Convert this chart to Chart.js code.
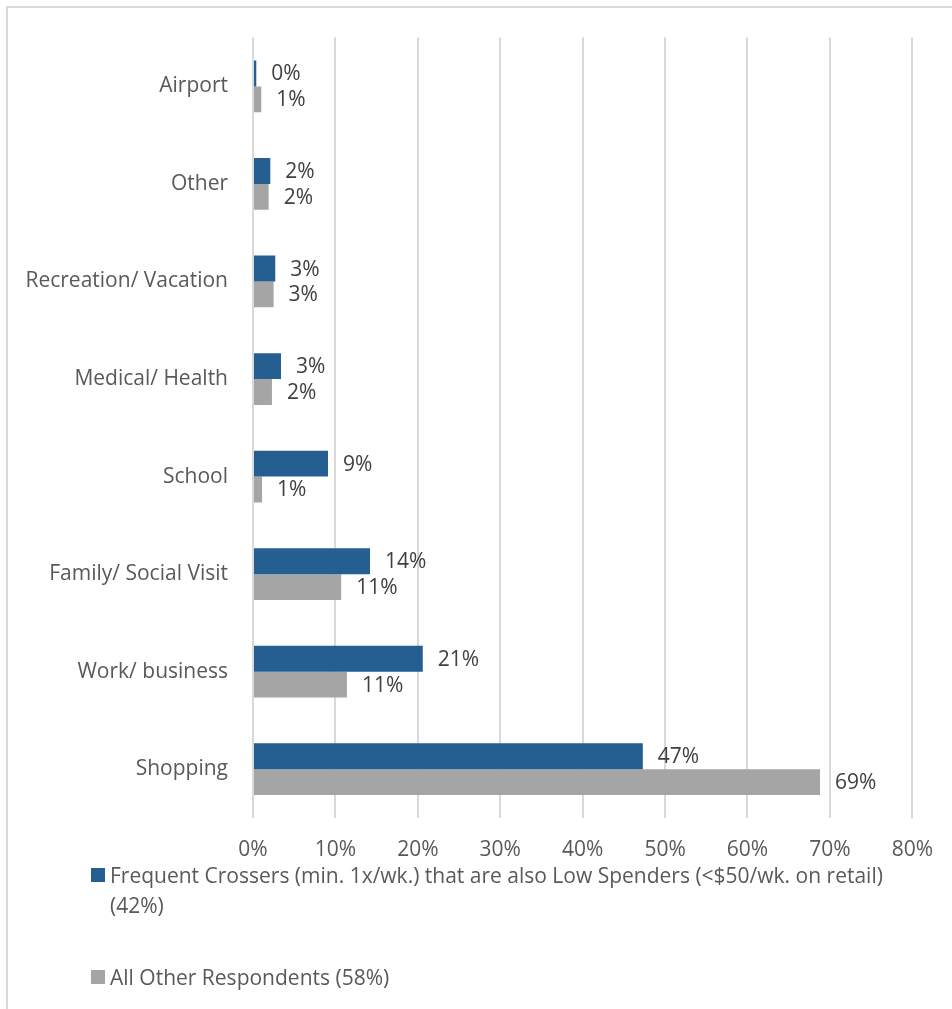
<!DOCTYPE html>
<html>
<head>
<meta charset="utf-8">
<script src="https://cdn.jsdelivr.net/npm/chart.js@4.4.1/dist/chart.umd.min.js"></script>
<style>
  body { margin: 0; background: #fff; overflow: hidden; font-family: "Open Sans", sans-serif; }
  #frame { position: absolute; left: 6px; top: 6px; width: 1000px; height: 1100px;
           border-top: 2px solid #d9d9d9; border-left: 2px solid #d9d9d9; }
  #chartBox { position: absolute; left: 0; top: 0; width: 952px; height: 870px; }
  #legend { position: absolute; left: 91px; top: 860px; width: 820px; color: #595959; font-size: 21px; }
  .item { display: flex; align-items: flex-start; line-height: 30px; margin-bottom: 42px; }
  .box { flex: none; width: 14px; height: 14px; margin: 8px 5px 0 0; }
</style>
</head>
<body>
<div id="frame"></div>
<div id="chartBox"><canvas id="chart"></canvas></div>
<div id="legend"></div>
<script>
const categories = ['Airport', 'Other', 'Recreation/ Vacation', 'Medical/ Health', 'School',
                    'Family/ Social Visit', 'Work/ business', 'Shopping'];
const frequentLowSpenders = [0.4, 2.1, 2.7, 3.4, 9.1, 14.2, 20.6, 47.3];
const otherRespondents = [1.0, 1.9, 2.5, 2.3, 1.1, 10.7, 11.4, 68.8];
const seriesNames = ['Frequent Crossers (min. 1x/wk.) that are also Low Spenders (<$50/wk. on retail) (42%)',
                     'All Other Respondents (58%)'];
const seriesColors = ['#255e91', '#a5a5a5'];
const xTicks = [0, 10, 20, 30, 40, 50, 60, 70, 80];

const font = '"Open Sans", sans-serif';

// value labels at the end of every bar
const barLabels = {
  id: 'barLabels',
  afterDatasetsDraw(chart) {
    const ctx = chart.ctx;
    ctx.save();
    ctx.font = '21px ' + font;
    ctx.fillStyle = '#404040';
    ctx.textAlign = 'left';
    ctx.textBaseline = 'middle';
    chart.data.datasets.forEach((ds, i) => {
      chart.getDatasetMeta(i).data.forEach((bar, j) => {
        ctx.fillText(Math.round(ds.data[j]) + '%', bar.x + 15, bar.y + 1);
      });
    });
    ctx.restore();
  }
};

const chart = new Chart(document.getElementById('chart'), {
  type: 'bar',
  data: {
    labels: categories,
    datasets: [
      { label: seriesNames[0], data: frequentLowSpenders, backgroundColor: seriesColors[0] },
      { label: seriesNames[1], data: otherRespondents, backgroundColor: seriesColors[1] }
    ]
  },
  options: {
    indexAxis: 'y',
    responsive: true,
    maintainAspectRatio: false,
    animation: false,
    categoryPercentage: 0.53,
    barPercentage: 1,
    layout: { padding: { top: 36, right: 39, left: 0, bottom: 0 } },
    plugins: { legend: { display: false }, tooltip: { enabled: false } },
    scales: {
      x: {
        min: 0,
        max: 80,
        afterBuildTicks: scale => { scale.ticks = xTicks.map(v => ({ value: v })); },
        afterFit: scale => { scale.height = 52; },
        grid: { color: '#d9d9d9', lineWidth: 2, drawTicks: false },
        border: { display: false },
        ticks: { color: '#595959', font: { family: font, size: 21 }, padding: 19,
                 callback: v => v + '%' }
      },
      y: {
        afterFit: scale => { scale.width = 253; },
        grid: { display: false, drawTicks: false },
        border: { display: false },
        ticks: { color: '#595959', font: { family: font, size: 21 }, padding: 25 }
      }
    }
  },
  plugins: [barLabels]
});

// legend below the chart, long names wrap under their own text
const legend = document.getElementById('legend');
chart.data.datasets.forEach(ds => {
  const item = document.createElement('div');
  item.className = 'item';
  const box = document.createElement('span');
  box.className = 'box';
  box.style.background = ds.backgroundColor;
  const text = document.createElement('span');
  text.textContent = ds.label;
  item.appendChild(box);
  item.appendChild(text);
  legend.appendChild(item);
});
</script>
</body>
</html>
